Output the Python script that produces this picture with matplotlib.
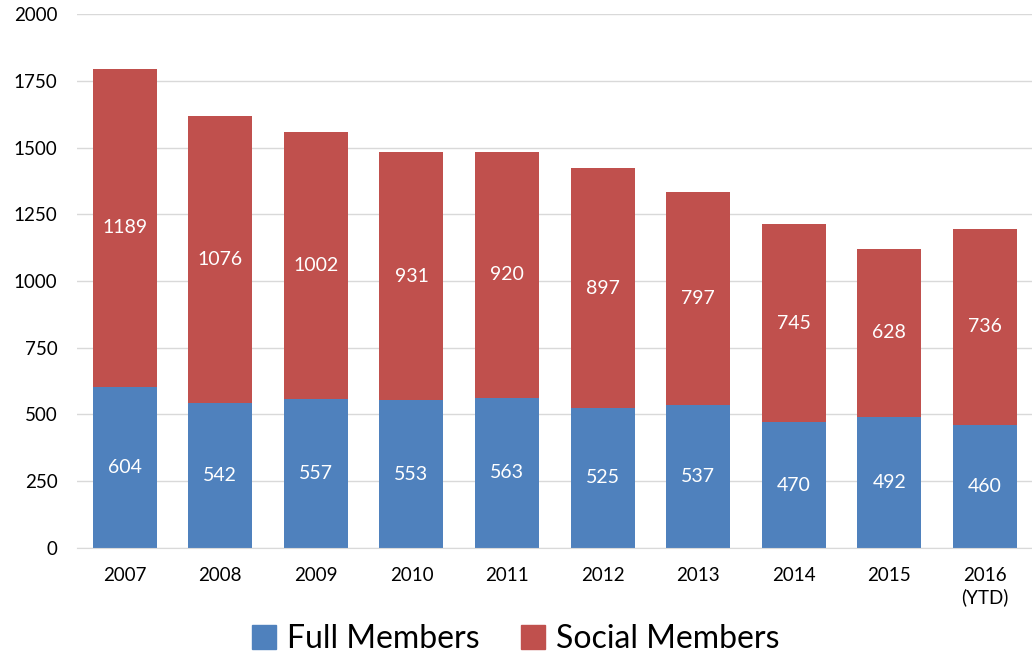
import matplotlib
matplotlib.use("Agg")
import matplotlib.pyplot as plt
from matplotlib.patches import Patch

years = ["2007", "2008", "2009", "2010", "2011", "2012", "2013", "2014", "2015", "2016\n(YTD)"]
full_members = [604, 542, 557, 553, 563, 525, 537, 470, 492, 460]
social_members = [1189, 1076, 1002, 931, 920, 897, 797, 745, 628, 736]
y_ticks = [0, 250, 500, 750, 1000, 1250, 1500, 1750, 2000]

blue = "#4F81BD"
red = "#C0504D"
plt.rcParams['font.family'] = ['Lato', 'DejaVu Sans']

fig = plt.figure(figsize=(10.32, 6.55), dpi=100)
ax = fig.add_axes([0.0746, 0.1634, 0.926, 0.8152])

x = list(range(len(years)))
w = 0.67
ax.bar(x, full_members, width=w, color=blue, zorder=3)
ax.bar(x, social_members, width=w, bottom=full_members, color=red, zorder=3)

for i in x:
    ax.text(i, full_members[i] / 2, str(full_members[i]), ha="center", va="center",
            color="white", fontsize=14, zorder=4)
    ax.text(i, full_members[i] + social_members[i] / 2, str(social_members[i]),
            ha="center", va="center", color="white", fontsize=14, zorder=4)

ax.set_xlim(-0.5, len(years) - 0.5)
ax.set_ylim(0, 2000)
ax.set_yticks(y_ticks)
ax.set_yticklabels([str(t) for t in y_ticks])
ax.set_xticks(x)
ax.set_xticklabels(years, linespacing=1.25)
ax.tick_params(axis="both", length=0, labelsize=13.5)
ax.tick_params(axis="y", pad=14)
ax.tick_params(axis="x", pad=14)
ax.yaxis.grid(True, color="#D9D9D9", linewidth=1, zorder=0)
for s in ["left", "right", "top"]:
    ax.spines[s].set_visible(False)
ax.spines["bottom"].set_color("#D9D9D9")
ax.spines["bottom"].set_zorder(5)

handles = [Patch(color=blue, label="Full Members"), Patch(color=red, label="Social Members")]
fig.legend(handles=handles, loc="center", bbox_to_anchor=(0.5, 0.024), ncol=2,
           frameon=False, fontsize=23, handlelength=0.75, handleheight=0.75,
           handletextpad=0.35, columnspacing=1.3, borderpad=0)

fig.savefig("out.png", dpi=100)
